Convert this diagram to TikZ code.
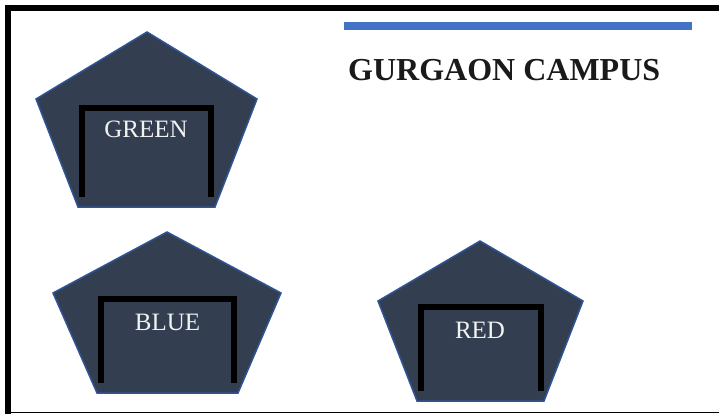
\documentclass[tikz,border=0pt]{standalone}
\usepackage{fontspec}
\setmainfont{Liberation Serif}
\definecolor{garagefill}{HTML}{333F50}
\definecolor{garageedge}{HTML}{2F5597}
\definecolor{accentblue}{HTML}{4472C4}
\definecolor{doortext}{HTML}{F2F2F2}
\definecolor{titletext}{HTML}{1A1A1A}
\tikzset{
  garage/.style={fill=garagefill, draw=garageedge, line width=1.5pt, line join=miter},
  door/.style={draw=black, line width=6pt},
  doorlabel/.style={text=doortext, font=\fontsize{25}{28}\selectfont, inner sep=0pt, anchor=base},
  frameline/.style={draw=black, line width=6pt},
}
\begin{document}
\begin{tikzpicture}[x=1pt,y=-1pt]
\useasboundingbox (0,0) rectangle (719,414);
% frame
\draw[frameline] (5,8) -- (719,8);
\draw[frameline] (8,5) -- (8,414);
\draw[black, line width=1.5pt] (8,412.5) -- (719,412.5);
% accent bar and title
\fill[accentblue] (344,22) rectangle (692,30);
\node[text=titletext, font=\fontsize{32}{36}\selectfont\bfseries, inner sep=0pt, anchor=base west] (title) at (348,81) {GURGAON CAMPUS};
% green garage
\path[garage] (147,32) -- (257,99) -- (215,207) -- (78,207) -- (36,99) -- cycle;
\draw[door] (82,197) -- (82,108) -- (211,108) -- (211,197);
\node[doorlabel] (green) at (146,138) {GREEN};
% blue garage
\path[garage] (167,232) -- (281,293) -- (238,393) -- (97,393) -- (53,293) -- cycle;
\draw[door] (101,383) -- (101,299) -- (234,299) -- (234,383);
\node[doorlabel] (blue) at (167.5,330) {BLUE};
% red garage
\path[garage] (480,241) -- (583,301) -- (544,401) -- (417,401) -- (378,301) -- cycle;
\draw[door] (421,391) -- (421,307) -- (541,307) -- (541,391);
\node[doorlabel] (red) at (480,338) {RED};
\end{tikzpicture}
\end{document}
